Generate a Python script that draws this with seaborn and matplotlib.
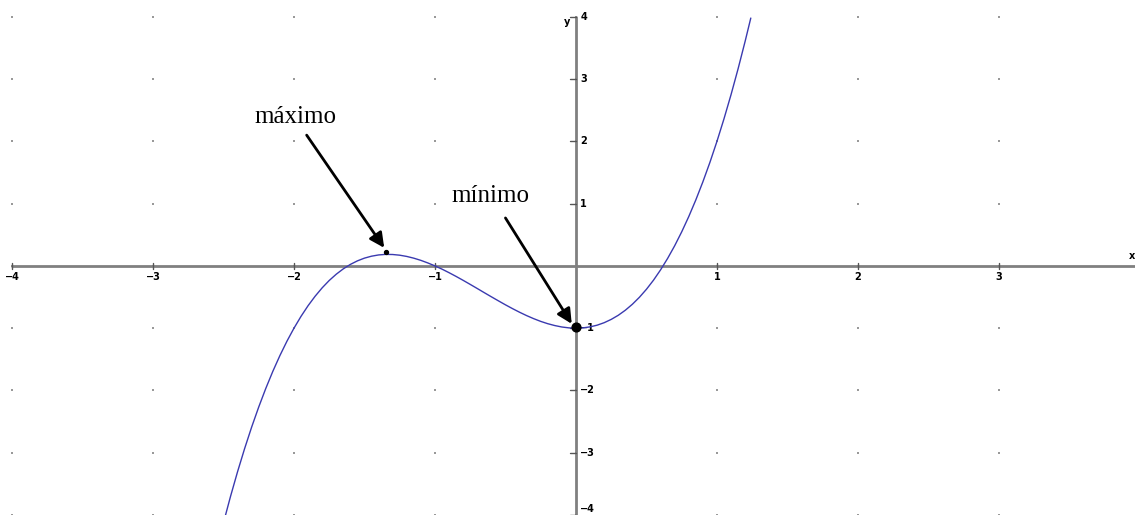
import numpy as np
import pandas as pd
import matplotlib
matplotlib.use("Agg")
import matplotlib.pyplot as plt
import seaborn as sns

sns.set_style("white")
plt.rcParams['font.family'] = ['Liberation Serif', 'DejaVu Serif']

# curve points
curve_x = [-2.6, -2.55, -2.5, -2.45, -2.4, -2.35, -2.3, -2.25, -2.2, -2.15, -2.1, -2.05,
           -2.0, -1.95, -1.9, -1.85, -1.8, -1.75, -1.7, -1.65, -1.6, -1.55, -1.5, -1.45,
           -1.4, -1.35, -1.3, -1.25, -1.2, -1.15, -1.1, -1.05, -1.0, -0.95, -0.9, -0.85,
           -0.8, -0.75, -0.7, -0.65, -0.6, -0.55, -0.5, -0.45, -0.4, -0.35, -0.3, -0.25,
           -0.2, -0.15, -0.1, -0.05, 0.0, 0.05, 0.1, 0.15, 0.2, 0.25, 0.3, 0.35,
           0.4, 0.45, 0.5, 0.55, 0.6, 0.65, 0.7, 0.75, 0.8, 0.85, 0.9, 0.95,
           1.0, 1.05, 1.1, 1.15, 1.2, 1.24]
curve_y = [-5.056, -4.576, -4.125, -3.701, -3.304, -2.933, -2.587, -2.266, -1.968, -1.693, -1.441, -1.210,
           -1.000, -0.810, -0.639, -0.487, -0.352, -0.234, -0.133, -0.047, 0.024, 0.081, 0.125, 0.156,
           0.176, 0.185, 0.183, 0.172, 0.152, 0.124, 0.089, 0.047, 0.000, -0.052, -0.109, -0.169,
           -0.232, -0.297, -0.363, -0.430, -0.496, -0.561, -0.625, -0.686, -0.744, -0.798, -0.847, -0.891,
           -0.928, -0.958, -0.981, -0.995, -1.000, -0.995, -0.979, -0.952, -0.912, -0.859, -0.793, -0.712,
           -0.616, -0.504, -0.375, -0.229, -0.064, 0.120, 0.323, 0.547, 0.792, 1.059, 1.349, 1.662,
           2.000, 2.363, 2.751, 3.166, 3.608, 3.980]

x_ticks = [-4, -3, -2, -1, 1, 2, 3]
y_ticks = [-4, -3, -2, -1, 1, 2, 3, 4]

max_pt = (-1.35, 0.22)
min_pt = (0.0, -0.98)
labels = ["máximo", "mínimo"]

df = pd.DataFrame({"x": curve_x, "y": curve_y})

fig = plt.figure(figsize=(11.35, 5.15), dpi=100)
ax = fig.add_axes([0, 0, 1, 1])
ax.set_xlim(-4.085, 3.965)
ax.set_ylim(-4.0, 4.27)

# dotted grid
gx, gy = np.meshgrid(range(-4, 4), range(-4, 5))
ax.scatter(gx.ravel(), gy.ravel(), s=1, color="#999999", marker="s", linewidths=0, zorder=1)

# axes through origin
ax.plot([-4, 3.965], [0, 0], color="#808080", lw=2, zorder=2)
ax.plot([0, 0], [-4.0, 4.0], color="#808080", lw=2, zorder=2)
for s in ax.spines.values():
    s.set_visible(False)
ax.set_xticks([])
ax.set_yticks([])

tick_font = dict(fontsize=7, fontweight="bold", family="DejaVu Sans", color="black")
for t in x_ticks:
    ax.plot([t, t], [-0.05, 0.05], color="#555555", lw=1, zorder=2)
    ax.text(t, -0.1, "\u2212%d" % -t if t < 0 else str(t), ha="center", va="top", **tick_font)
for t in y_ticks:
    ax.plot([-0.04, 0], [t, t], color="#555555", lw=1, zorder=2)
    ax.text(0.03, max(t, -3.9), "\u2212%d" % -t if t < 0 else str(t), ha="left", va="center", **tick_font)
ax.text(-0.04, 3.92, "y", ha="right", va="center", **tick_font)
ax.text(3.963, 0.16, "x", ha="right", va="center", **tick_font)

sns.lineplot(data=df, x="x", y="y", sort=False, color="#3a3ab0", lw=1, ax=ax, zorder=3)
ax.set_xlabel("")
ax.set_ylabel("")

ax.scatter([max_pt[0]], [max_pt[1]], s=8, color="black", zorder=4)
ax.scatter([min_pt[0]], [min_pt[1]], s=40, color="black", zorder=4)

ax.text(-1.99, 2.39, labels[0], ha="center", va="center", fontsize=18, color="black")
ax.text(-0.61, 1.12, labels[1], ha="center", va="center", fontsize=18, color="black")
arrow = dict(arrowstyle="-|>", color="black", lw=2, mutation_scale=22, shrinkA=0, shrinkB=0)
ax.annotate("", xy=(-1.36, 0.29), xytext=(-1.91, 2.10), arrowprops=arrow)
ax.annotate("", xy=(-0.03, -0.93), xytext=(-0.50, 0.77), arrowprops=arrow)

fig.savefig("out.png", dpi=100)
